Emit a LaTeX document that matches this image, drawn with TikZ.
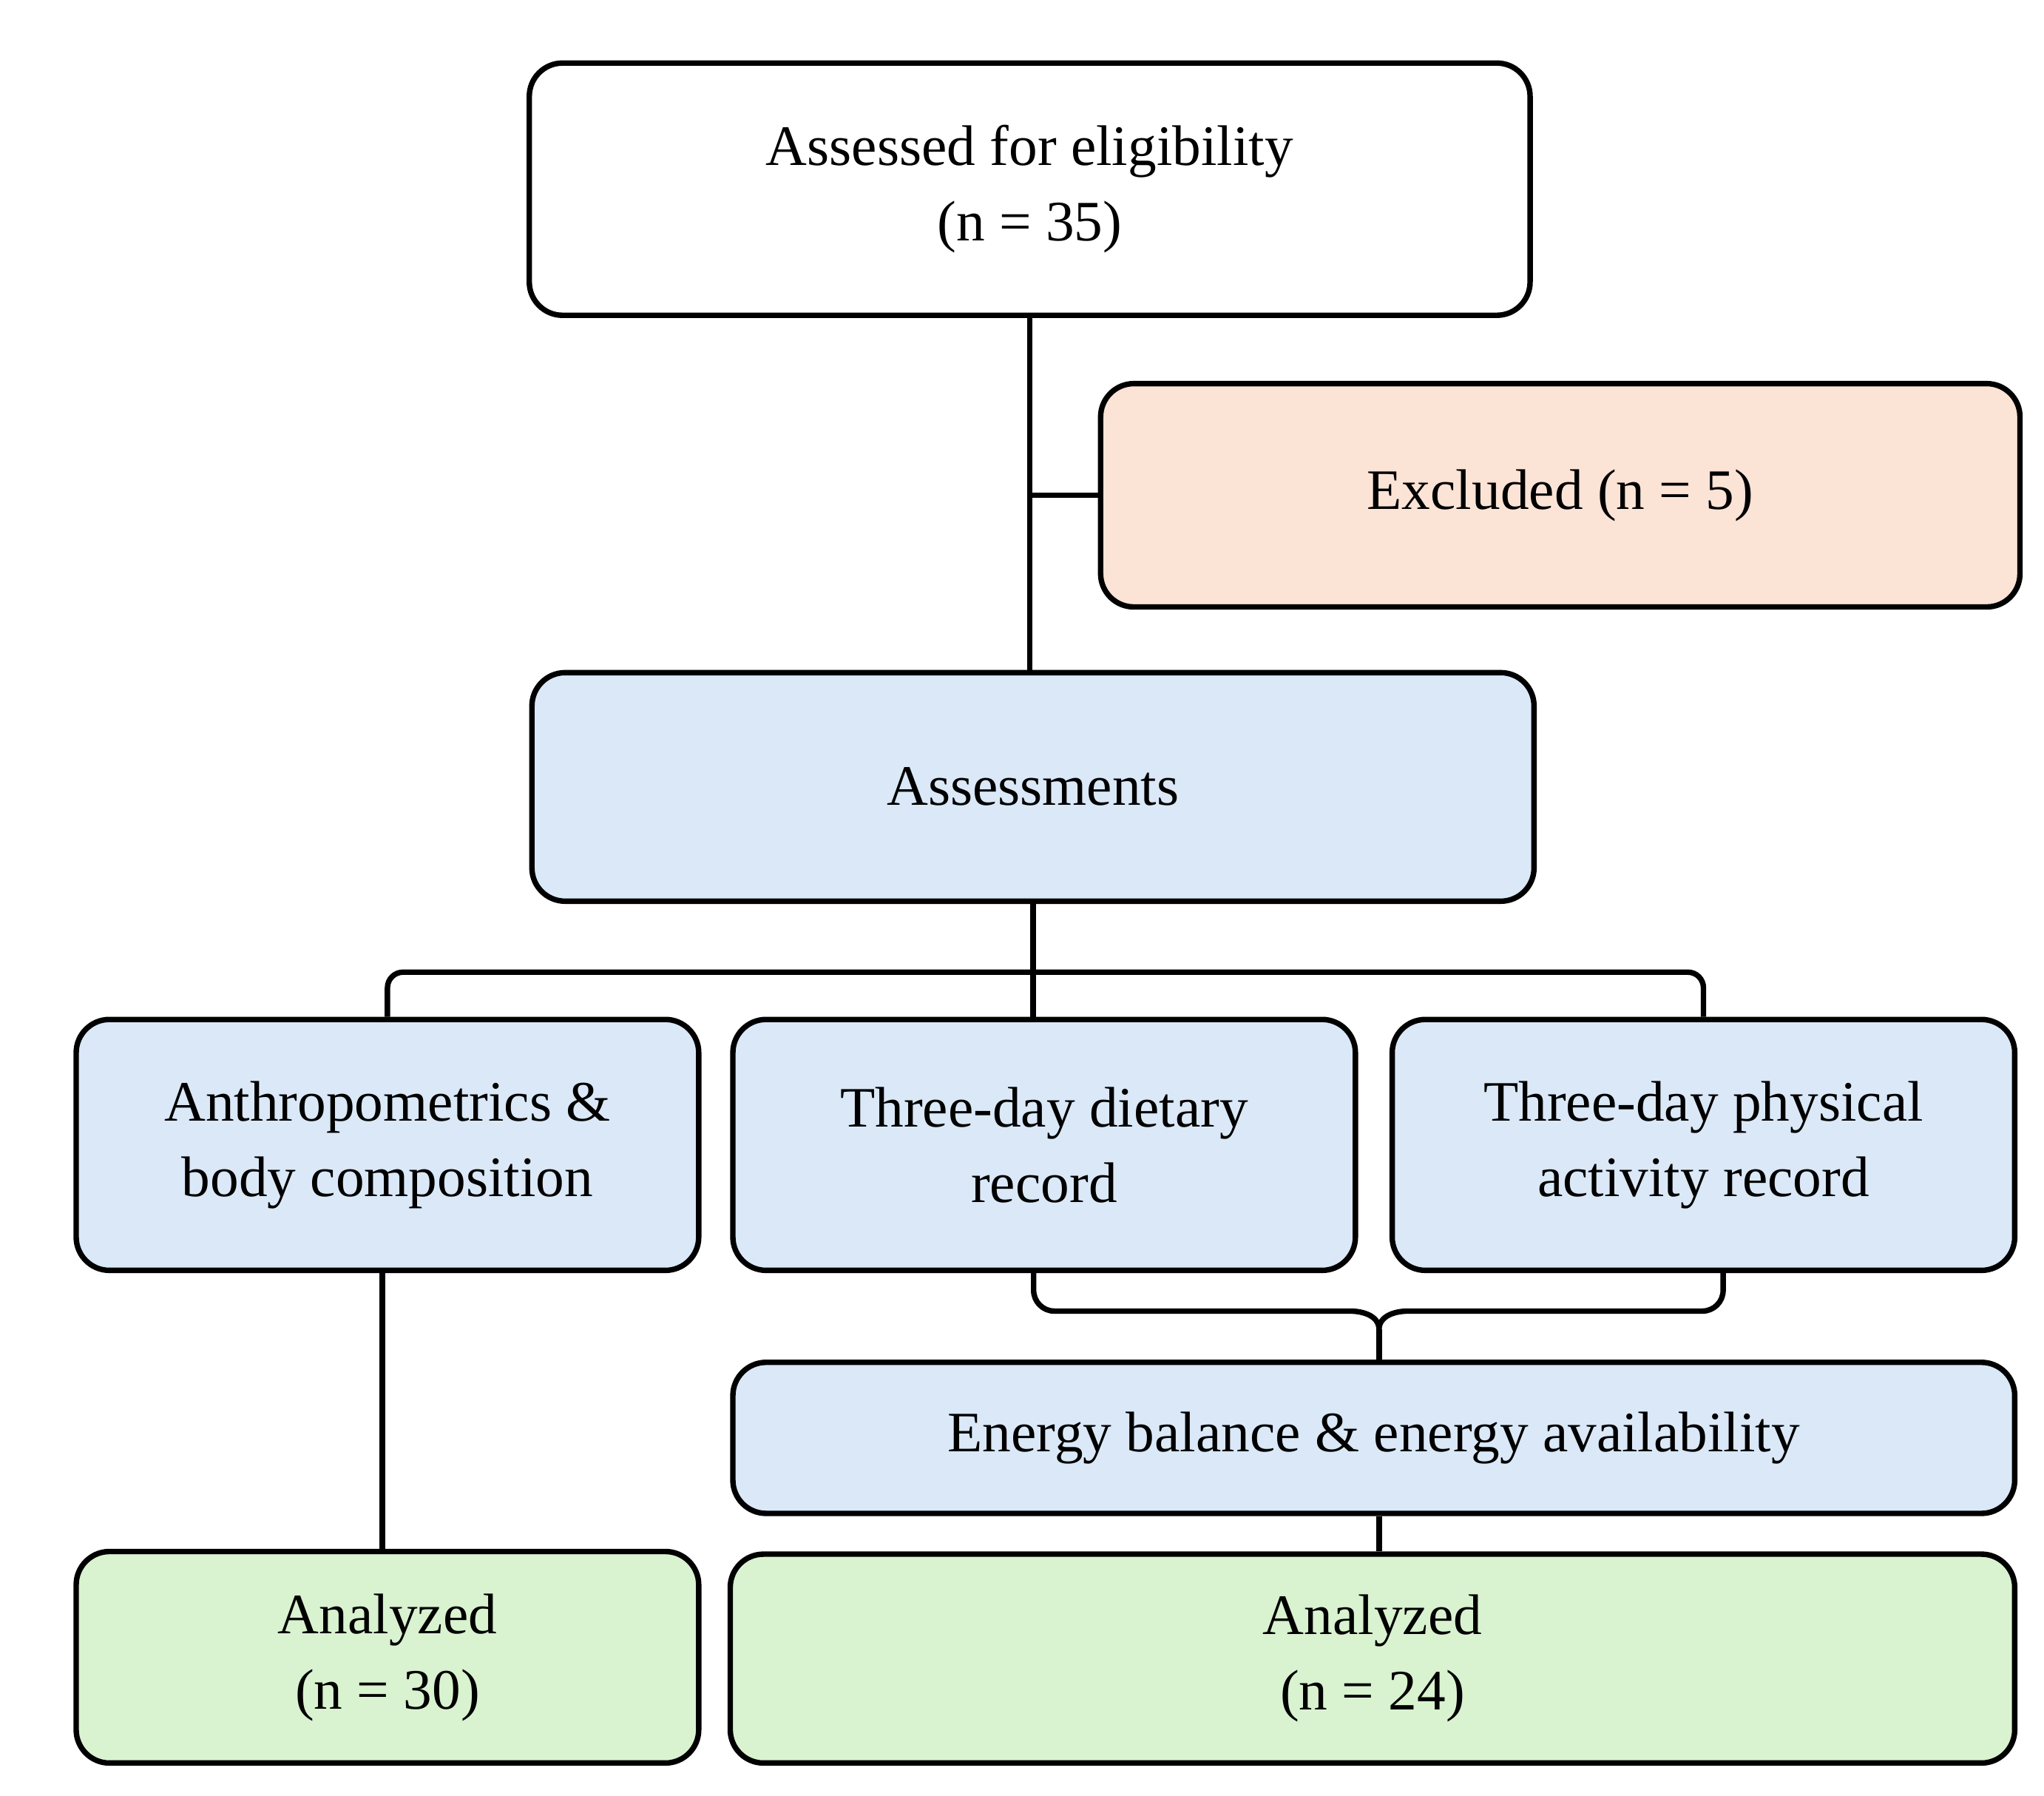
\documentclass[tikz,border=0pt]{standalone}
\usepackage{fontspec}
\setmainfont{Liberation Serif}
\definecolor{exc}{HTML}{FBE3D6}
\definecolor{blu}{HTML}{DAE8F7}
\definecolor{grn}{HTML}{D9F2D0}
\begin{document}
\begin{tikzpicture}[x=0.01776cm,y=-0.01776cm,
  box/.style={draw,line width=2.1pt,rounded corners=0.45cm,align=center,inner sep=0pt,
    font=\fontsize{22}{29}\selectfont},
  ln/.style={line width=2.1pt}]
\useasboundingbox (0,0) rectangle (1556.3,1366.6);
\newcommand\bx[7]{\node[box,#6,minimum width={(#4-#2)*0.01776cm},minimum height={(#5-#3)*0.01776cm}] (#1) at ({(#2+#4)/2},{(#3+#5)/2}) {#7};}
\bx{top}{403}{48}{1165}{240}{fill=white}{Assessed for eligibility\\(n = 35)}
\bx{excl}{838}{292}{1538}{462}{fill=exc}{Excluded (n = 5)}
\bx{assess}{405}{512}{1168}{686}{fill=blu}{Assessments}
\bx{A}{58}{776}{532}{967}{fill=blu}{Anthropometrics \&\\body composition}
\bx{B}{558}{776}{1032}{967}{fill=blu}{Three-day dietary\\record}
\bx{C}{1060}{776}{1534}{967}{fill=blu}{Three-day physical\\activity record}
\bx{E}{558}{1037}{1534}{1152}{fill=blu}{Energy balance \& energy availability}
\bx{G1}{58}{1181}{532}{1342}{fill=grn}{Analyzed\\(n = 30)}
\bx{G2}{556}{1183}{1534}{1342}{fill=grn}{Analyzed\\(n = 24)}
\coordinate (bus) at (785,740);
\coordinate (bl) at (787,967);
\coordinate (br) at (1312,967);
\coordinate (bm) at (1050,1012);
\coordinate (bml) at (1028,998);
\coordinate (bmr) at (1072,998);
\draw[ln] (top.south) -- (top.south |- assess.north);
\draw[ln] (top.south |- excl.west) -- (excl.west);
\draw[ln] (assess.south) -- (assess.south |- B.north);
\draw[ln,rounded corners=6pt] (A.north) |- (bus) -| (C.north);
\draw[ln,rounded corners=8pt] (bml) -- (bl |- bml) -- (bl);
\draw[ln,rounded corners=8pt] (bmr) -- (br |- bmr) -- (br);
\draw[ln] (bml) to[out=0,in=90] (bm) to[out=90,in=180] (bmr);
\draw[ln] (bm) -- (bm |- E.north);
\draw[ln] (E.south -| bm) -- (G2.north -| bm);
\draw[ln] (291,967) -- (291,1181);
\end{tikzpicture}
\end{document}
